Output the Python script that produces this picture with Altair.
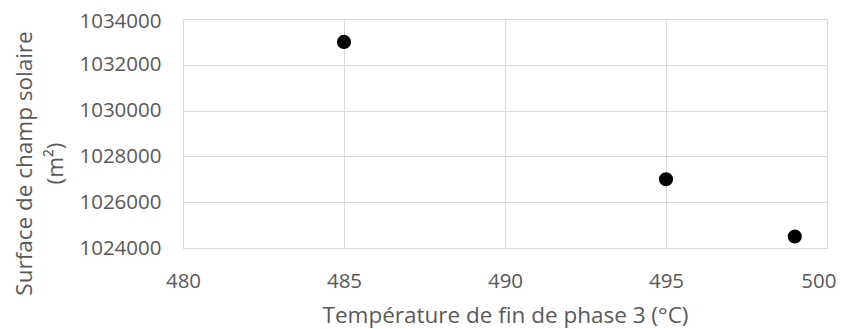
import altair as alt
import pandas as pd

temps = [485, 495, 499]
surfaces = [1033000, 1027000, 1024500]
x_ticks = [480, 485, 490, 495, 500]
y_ticks = [1024000, 1026000, 1028000, 1030000, 1032000, 1034000]

df = pd.DataFrame({"t": temps, "s": surfaces})

FONT = "Open Sans"
GRID = "#d9d9d9"
TXT = "#595959"

chart = alt.Chart(df).mark_circle(size=200, color="black", opacity=1).encode(
    x=alt.X("t:Q", scale=alt.Scale(domain=[480, 500], nice=False, zero=False),
            axis=alt.Axis(values=x_ticks, title="Température de fin de phase 3 (°C)",
                          labelPadding=23, titleY=74, titleBaseline="alphabetic",
                          labelAlign=alt.ConditionalAxisLabelAlign(
                              condition={"test": "datum.value == 500", "value": "right"},
                              value="center"),
                          labelOffset=alt.ConditionalAxisNumber(
                              condition={"test": "datum.value == 500", "value": 9},
                              value=0))),
    y=alt.Y("s:Q", scale=alt.Scale(domain=[1024000, 1034000], nice=False, zero=False),
            axis=alt.Axis(values=y_ticks, title=["Surface de champ solaire", "(m²)"], format="d",
                          labelPadding=22, titleX=-152, titleY=144, titleBaseline="alphabetic",
                          titleAlign="center", titleLineHeight=31,
                          labelOffset=alt.ConditionalAxisNumber(
                              condition={"test": "datum.value == 1034000", "value": 2},
                              value=0))),
).properties(
    width=644, height=229,
    autosize=alt.AutoSizeParams(type="none"),
    padding={"left": 175, "top": 11, "right": 10, "bottom": 81},
).configure_view(stroke=None).configure_axis(
    gridColor=GRID, gridWidth=1, domainColor=GRID, domainWidth=1, ticks=False,
    labelFont=FONT, titleFont=FONT, labelFontSize=20.5, titleFontSize=22.5,
    labelColor=TXT, titleColor=TXT, titleFontWeight="normal", labelFlush=False,
)

chart.save("out.html", embed_options={"renderer": "svg", "actions": False})
